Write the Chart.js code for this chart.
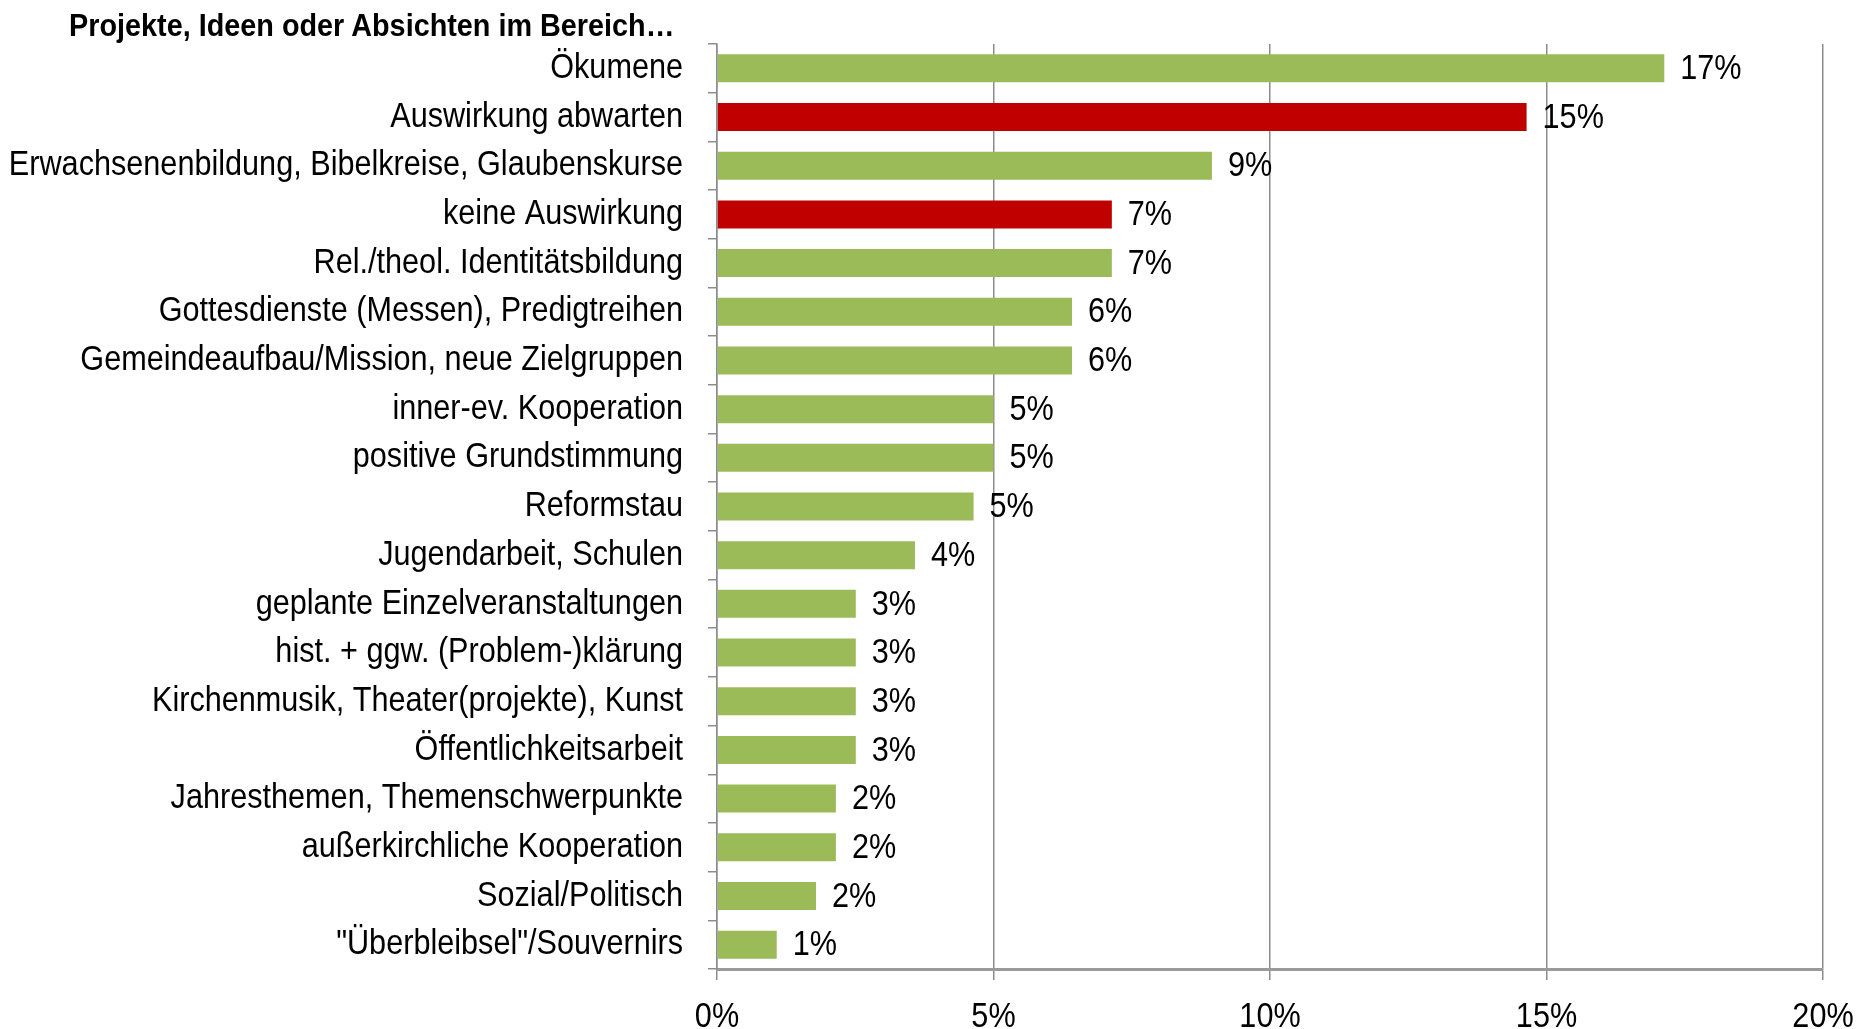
<!DOCTYPE html>
<html><head><meta charset="utf-8">
<script src="https://cdn.jsdelivr.net/npm/chart.js@4.4.1/dist/chart.umd.min.js"></script>
<style>
html,body{margin:0;padding:0;background:#fff;}
#wrap{position:relative;width:1866px;height:1029px;}
#title{position:absolute;left:69px;top:9px;font:bold 32px/32px 'Liberation Sans',Arial,sans-serif;color:#000;white-space:nowrap;transform:scaleX(0.9);transform-origin:0 0;}
</style></head>
<body>
<div id="wrap">
<canvas id="c" width="1866" height="1029"></canvas>
<div id="title">Projekte, Ideen oder Absichten im Bereich…</div>
</div>
<script>
const categories = ["Ökumene","Auswirkung abwarten","Erwachsenenbildung, Bibelkreise, Glaubenskurse","keine Auswirkung","Rel./theol. Identitätsbildung","Gottesdienste (Messen), Predigtreihen","Gemeindeaufbau/Mission, neue Zielgruppen","inner-ev. Kooperation","positive Grundstimmung","Reformstau","Jugendarbeit, Schulen","geplante Einzelveranstaltungen","hist. + ggw. (Problem-)klärung","Kirchenmusik, Theater(projekte), Kunst","Öffentlichkeitsarbeit","Jahresthemen, Themenschwerpunkte","außerkirchliche Kooperation","Sozial/Politisch","\"Überbleibsel\"/Souvernirs"];
const values = [17.13,14.64,8.95,7.14,7.14,6.42,6.42,5.0,5.0,4.64,3.58,2.51,2.51,2.51,2.51,2.15,2.15,1.79,1.08];
const highlighted = [false,true,false,true,false,false,false,false,false,false,false,false,false,false,false,false,false,false,false];
const xTicks = [0,5,10,15,20];
const FONT = "'Liberation Sans',Arial,sans-serif";
const GREEN = '#9BBB59', RED = '#C00000', GRID = '#8c8c8c';

// narrow rendering of text (Arial Narrow look) on the chart canvas
const canvas = document.getElementById('c');
const ctx2d = canvas.getContext('2d');
const SX = 0.875;
const origFill = ctx2d.fillText.bind(ctx2d);
const origMeasure = ctx2d.measureText.bind(ctx2d);
ctx2d.fillText = function (t, x, y) {
  this.save(); this.translate(x, y); this.scale(SX, 1); origFill(t, 0, 0); this.restore();
};
ctx2d.measureText = function (t) {
  const m = origMeasure(t);
  return {
    width: m.width * SX,
    actualBoundingBoxAscent: m.actualBoundingBoxAscent,
    actualBoundingBoxDescent: m.actualBoundingBoxDescent,
    actualBoundingBoxLeft: m.actualBoundingBoxLeft * SX,
    actualBoundingBoxRight: m.actualBoundingBoxRight * SX
  };
};

const labelPlugin = {
  id: 'valLabels',
  afterDatasetsDraw(chart) {
    const ctx = chart.ctx;
    const meta = chart.getDatasetMeta(0);
    ctx.save();
    ctx.font = '35px ' + FONT;
    ctx.fillStyle = '#000';
    ctx.textAlign = 'left';
    ctx.textBaseline = 'middle';
    meta.data.forEach((bar, i) => {
      ctx.fillText(Math.round(values[i]) + '%', bar.x + 16, bar.y + 1);
    });
    ctx.restore();
  }
};

new Chart(canvas, {
  type: 'bar',
  data: {
    labels: categories,
    datasets: [{
      data: values,
      backgroundColor: highlighted.map(h => h ? RED : GREEN),
      borderWidth: 0,
      barPercentage: 0.9,
      categoryPercentage: 0.639
    }]
  },
  options: {
    indexAxis: 'y',
    responsive: false,
    animation: false,
    devicePixelRatio: 1,
    layout: { padding: { top: 44, right: 43, left: 0, bottom: 0 } },
    plugins: { legend: { display: false }, tooltip: { enabled: false } },
    scales: {
      x: {
        min: 0, max: 20,
        afterBuildTicks: s => { s.ticks = xTicks.map(v => ({ value: v })); },
        afterFit: s => { s.height = 60; s.paddingLeft = 0; s.paddingRight = 0; },
        grid: { color: GRID, lineWidth: 1.5, tickLength: 11, tickColor: GRID, drawOnChartArea: true },
        border: { display: true, color: '#9a9a9a', width: 3 },
        ticks: { callback: v => v + '%', color: '#000', font: { family: FONT, size: 35 }, padding: 16, maxRotation: 0 }
      },
      y: {
        afterFit: s => { s.width = 717; s.paddingTop = 0; s.paddingBottom = 0; },
        grid: { offset: true, drawOnChartArea: false, tickLength: 9, color: GRID, tickColor: GRID, lineWidth: 1.5 },
        border: { display: true, color: GRID, width: 1.5 },
        ticks: { color: '#000', font: { family: FONT, size: 35 }, padding: 25, autoSkip: false }
      }
    }
  },
  plugins: [labelPlugin]
});
</script>
</body></html>
